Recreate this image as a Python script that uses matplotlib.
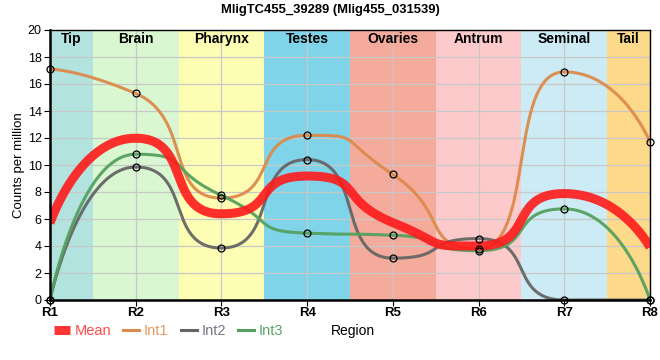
import numpy as np
import matplotlib
matplotlib.use("Agg")
import matplotlib.pyplot as plt
from matplotlib.lines import Line2D

plt.rcParams['font.family'] = ['Liberation Sans', 'DejaVu Sans']

title = "MligTC455_39289 (Mlig455_031539)"
regions = ["R1", "R2", "R3", "R4", "R5", "R6", "R7", "R8"]
sections = ["Tip", "Brain", "Pharynx", "Testes", "Ovaries", "Antrum", "Seminal", "Tail"]
section_colors = ["#b3e3df", "#d9f7d0", "#fdfdb4", "#7fd4ea", "#f5ab9c", "#fdcacb", "#cdebf4", "#fdd98a"]
int1 = [17.1, 15.3, 7.55, 12.2, 9.3, 3.8, 16.9, 11.7]
int2 = [0.0, 9.85, 3.85, 10.4, 3.1, 4.55, 0.0, 0.0]
int3 = [0.0, 10.8, 7.75, 4.95, 4.8, 3.65, 6.75, 0.0]
mean = list(np.mean([int1, int2, int3], axis=0))


def spline_path(xs, ys, smoothing=0.5, n=60):
    """Smooth spline through points with clamped control handles (no overshoot)."""
    xs = [float(v) for v in xs]; ys = [float(v) for v in ys]
    m = len(xs)
    denom = smoothing + 1
    lc = [None] * m
    rc = [None] * m
    for i in range(1, m - 1):
        px, py = xs[i], ys[i]
        lx, ly, nx, ny = xs[i-1], ys[i-1], xs[i+1], ys[i+1]
        lcx = (smoothing * px + lx) / denom; lcy = (smoothing * py + ly) / denom
        rcx = (smoothing * px + nx) / denom; rcy = (smoothing * py + ny) / denom
        corr = ((rcy - lcy) * (rcx - px)) / (rcx - lcx) + py - rcy
        lcy += corr; rcy += corr
        if lcy > ly and lcy > py:
            lcy = max(ly, py); rcy = 2 * py - lcy
        elif lcy < ly and lcy < py:
            lcy = min(ly, py); rcy = 2 * py - lcy
        if rcy > ny and rcy > py:
            rcy = max(ny, py); lcy = 2 * py - rcy
        elif rcy < ny and rcy < py:
            rcy = min(ny, py); lcy = 2 * py - rcy
        lc[i] = (lcx, lcy); rc[i] = (rcx, rcy)
    u = np.linspace(0, 1, n)[:, None]
    X, Y = [], []
    for i in range(m - 1):
        P0 = np.array([xs[i], ys[i]])
        P1 = np.array(rc[i] if rc[i] is not None else (xs[i], ys[i]))
        P2 = np.array(lc[i+1] if lc[i+1] is not None else (xs[i+1], ys[i+1]))
        P3 = np.array([xs[i+1], ys[i+1]])
        B = (1-u)**3*P0 + 3*(1-u)**2*u*P1 + 3*(1-u)*u**2*P2 + u**3*P3
        X.extend(B[:, 0]); Y.extend(B[:, 1])
    return np.array(X), np.array(Y)


fig = plt.figure(figsize=(6.6, 3.6), dpi=100)
ax = fig.add_axes([50/660, 1-300/360, 600/660, 270/360])
x = np.arange(len(regions))

for i, (sec, c) in enumerate(zip(sections, section_colors)):
    ax.axvspan(max(i - 0.5, 0), min(i + 0.5, len(regions) - 1), color=c, lw=0, zorder=0)
    xc = i if 0 < i < len(regions) - 1 else (i + 0.25 if i == 0 else i - 0.25)
    ax.text(xc, 19.35, sec, ha='center', va='center', fontsize=10, fontweight='bold', zorder=5)

for yv in range(0, 21, 2):
    ax.axhline(yv, color='#c8c8c8', lw=0.9, zorder=1)
for xv in x:
    ax.axvline(xv, color='#c8c8c8', lw=0.9, zorder=1)

series = [(int1, '#dd8a4c', 'Int1'), (int2, '#666666', 'Int2'), (int3, '#55a060', 'Int3')]
for vals, c, lab in series:
    X, Y = spline_path(x, vals)
    ax.plot(X, Y, color=c, lw=2.2, alpha=0.95, zorder=3, solid_capstyle='butt')
X, Y = spline_path(x, mean)
ax.plot(X, Y, color='#ff1a1a', lw=6.5, alpha=0.9, zorder=4, solid_capstyle='butt')
for vals, c, lab in series:
    ax.plot(x, vals, 'o', ms=5, mfc='none', mec='black', mew=0.9, zorder=6, clip_on=False)

ax.set_xlim(0, len(regions) - 1)
ax.set_ylim(0, 20)
ax.set_xticks(x)
ax.set_xticklabels(regions, fontweight='bold', fontsize=9.5)
ax.set_yticks(range(0, 21, 2))
ax.tick_params(axis='y', labelsize=9, length=4, pad=2)
ax.tick_params(axis='x', length=4, pad=1)
ax.set_ylabel("Counts per million", fontsize=9.5, labelpad=2)
for sp in ['left', 'bottom']:
    ax.spines[sp].set_linewidth(1.8)
for sp in ['top', 'right']:
    ax.spines[sp].set_linewidth(1.0)
for sp in ax.spines.values():
    sp.set_zorder(7)

fig.text(0.5, 1 - 10/360, title, ha='center', va='center', fontsize=9.4, fontweight='bold')

handles = [Line2D([], [], color='#ff2020', lw=6.5, alpha=0.9, solid_capstyle='butt'),
           Line2D([], [], color='#dd8a4c', lw=2.2),
           Line2D([], [], color='#666666', lw=2.2),
           Line2D([], [], color='#55a060', lw=2.2)]
leg = fig.legend(handles, ['Mean', 'Int1', 'Int2', 'Int3'], loc='center left',
                 bbox_to_anchor=(54/660, 1 - 331/360), ncol=4, frameon=False,
                 fontsize=10.5, handlelength=1.1, handletextpad=0.3, columnspacing=0.85,
                 borderpad=0, borderaxespad=0,
                 labelcolor=['#ff4a4a', '#e39a60', '#777788', '#5aa66a'])
fig.text(331/660, 1 - 331/360, "Region", ha='left', va='center', fontsize=10)

fig.savefig("out.png", dpi=100)
